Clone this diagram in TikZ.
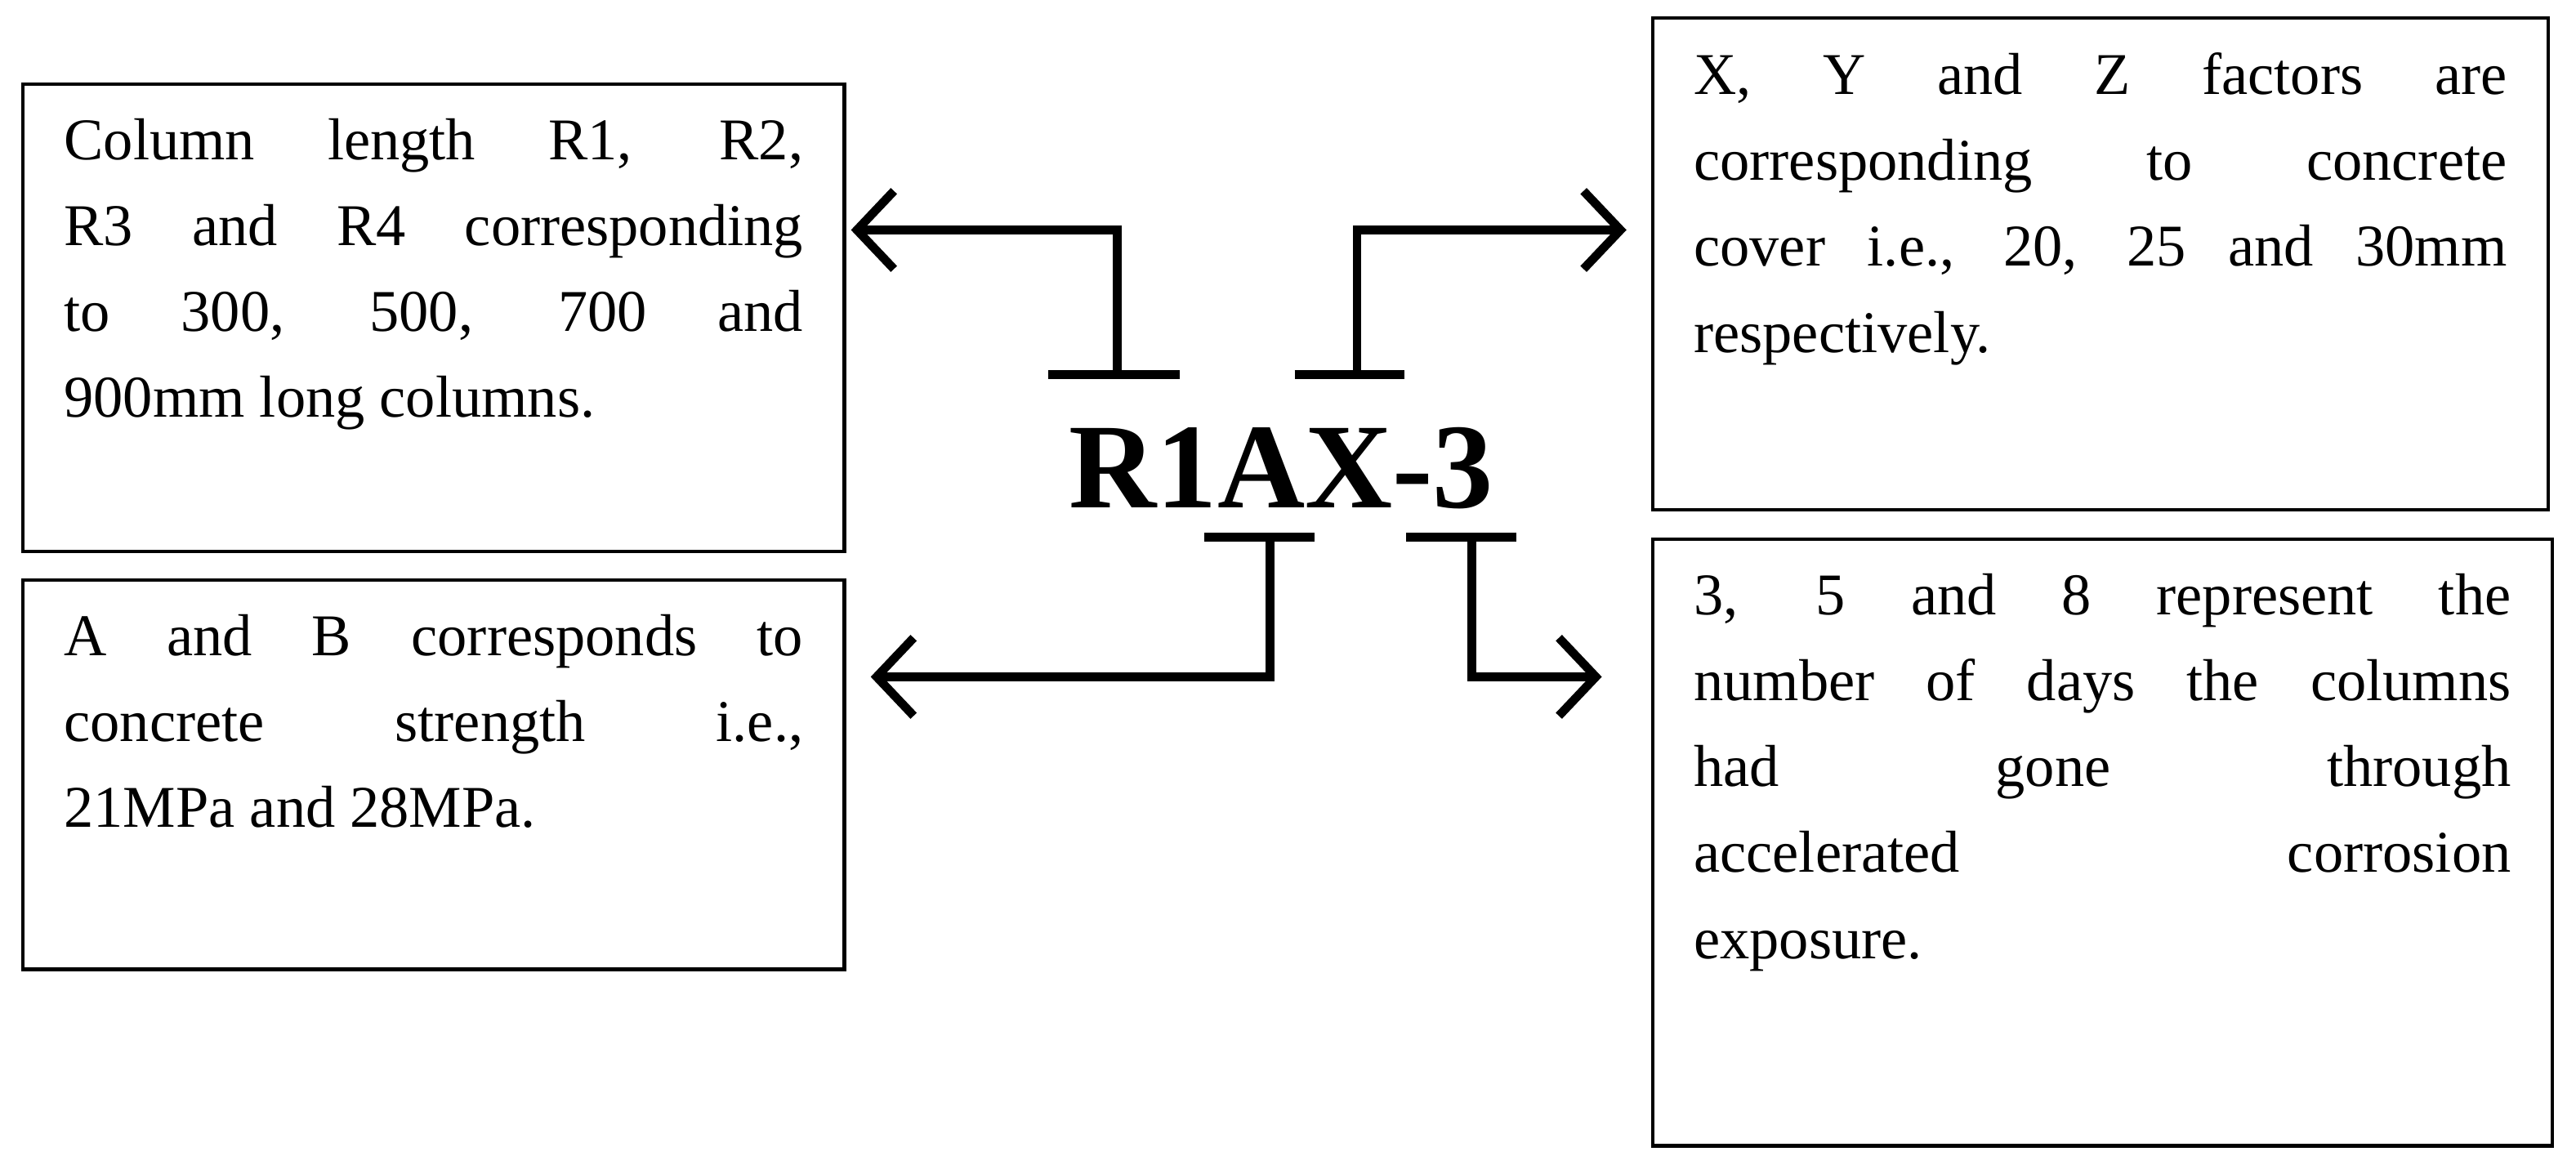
\documentclass[tikz,border=0pt]{standalone}
\usepackage{fontspec}
\setmainfont{Liberation Serif}
\usetikzlibrary{arrows.meta, positioning}

\newcommand{\boxtext}[3]{\parbox[t][#2][t]{#1}{\fontsize{20.5}{29.8}\selectfont\noindent #3}}

\begin{document}
\begin{tikzpicture}[x=0.02cm, y=-0.02cm,
  box/.style={draw, line width=1.2pt, anchor=north west, inner xsep=0.5cm, inner ysep=0.42cm, align=justify},
  bar/.style={line width=3.2pt},
  link/.style={line width=3pt, -{Straight Barb[length=0.45cm, width=0.95cm, line width=3pt]}}]

  \useasboundingbox (0,0) rectangle (1568,709);

  % Boxes
  \node[box] (len) at (13,50) {\boxtext{9cm}{4.85cm}{Column length R1, R2,\linebreak R3 and R4 corresponding\linebreak to 300, 500, 700 and\linebreak 900mm long columns.}};
  \node[box] (str) at (13,352) {\boxtext{9cm}{3.9cm}{A and B corresponds to\linebreak concrete strength i.e.,\linebreak 21MPa and 28MPa.}};
  \node[box] (cov) at (1005,10) {\boxtext{9.9cm}{5.15cm}{X, Y and Z factors are\linebreak corresponding to concrete\linebreak cover i.e., 20, 25 and 30mm\linebreak respectively.}};
  \node[box] (day) at (1005,327) {\boxtext{9.95cm}{6.55cm}{3, 5 and 8 represent the\linebreak number of days the columns\linebreak had gone through\linebreak accelerated corrosion\linebreak exposure.}};

  % Code
  \node[font=\bfseries\fontsize{42}{42}\selectfont] (code) at (780,285) {R1AX-3};

  % Bars
  \coordinate (b1) at (680,228);
  \coordinate (b2) at (826,228);
  \coordinate (b3) at (773,327);
  \coordinate (b4) at (896,327);
  \draw[bar] (638,228) -- (718,228);
  \draw[bar] (788,228) -- (855,228);
  \draw[bar] (733,327) -- (800,327);
  \draw[bar] (856,327) -- (923,327);

  % Arrow ends
  \coordinate (e1) at (518,140);
  \coordinate (e2) at (990,140);
  \coordinate (e3) at (530,412);
  \coordinate (e4) at (975,412);

  % Links
  \draw[link] (b1) |- (e1);
  \draw[link] (b2) |- (e2);
  \draw[link] (b3) |- (e3);
  \draw[link] (b4) |- (e4);

\end{tikzpicture}
\end{document}
